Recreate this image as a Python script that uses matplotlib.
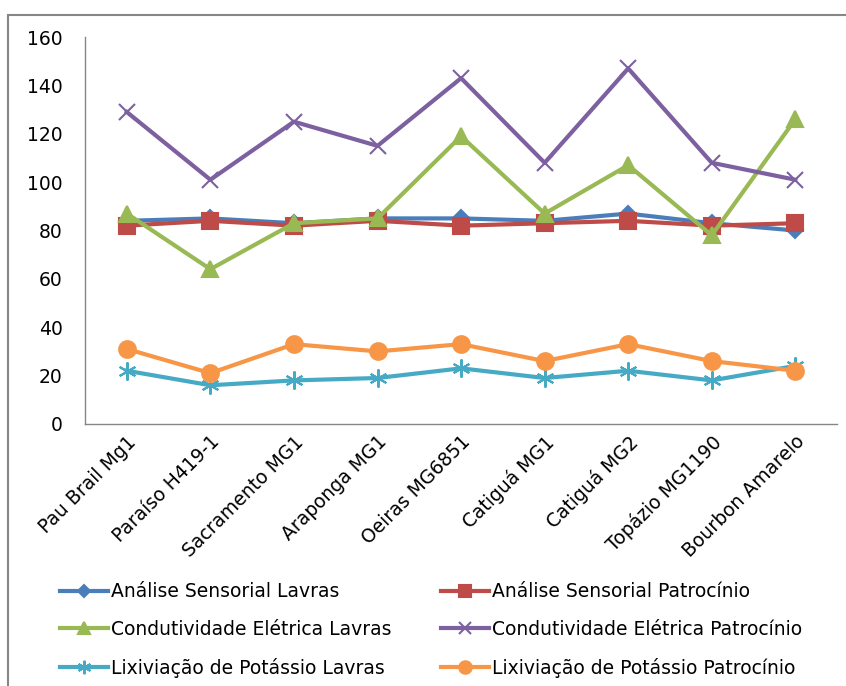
import matplotlib
matplotlib.use("Agg")
import matplotlib.pyplot as plt
from matplotlib.patches import Rectangle

# --- Dados ---
cultivares = ["Pau Brail Mg1", "Paraíso H419-1", "Sacramento MG1", "Araponga MG1",
              "Oeiras MG6851", "Catiguá MG1", "Catiguá MG2", "Topázio MG1190",
              "Bourbon Amarelo"]
sens_lavras = [84, 85, 83, 85, 85, 84, 87, 83, 80]
sens_patroc = [82, 84, 82, 84, 82, 83, 84, 82, 83]
cond_lavras = [87, 64, 83, 85, 119, 87, 107, 78, 126]
cond_patroc = [129, 101, 125, 115, 143, 108, 147, 108, 101]
lix_lavras = [22, 16, 18, 19, 23, 19, 22, 18, 24]
lix_patroc = [31, 21, 33, 30, 33, 26, 33, 26, 22]

plt.rcParams['font.family'] = ['DejaVu Sans']
FS = 13.5

fig = plt.figure(figsize=(8.46, 6.86), dpi=100)
ax = fig.add_axes([0.1005, 0.382, 0.889, 0.564])

x = range(len(cultivares))
series = [
    (sens_lavras, "Análise Sensorial Lavras", "#4A7EBB", "D", 8),
    (sens_patroc, "Análise Sensorial Patrocínio", "#BE4B48", "s", 11),
    (cond_lavras, "Condutividade Elétrica Lavras", "#98B954", "^", 12),
    (cond_patroc, "Condutividade Elétrica Patrocínio", "#7D60A0", "x", 11),
    (lix_lavras, "Lixiviação de Potássio Lavras", "#46AAC5", (6, 2, 0), 13),
    (lix_patroc, "Lixiviação de Potássio Patrocínio", "#F79646", "o", 12),
]
linhas = []
for vals, lab, cor, mk, ms in series:
    l, = ax.plot(x, vals, color=cor, linewidth=3, marker=mk, markersize=ms,
                 markeredgewidth=1.5, markeredgecolor=cor, label=lab)
    linhas.append(l)

ax.set_xlim(-0.5, len(cultivares) - 0.5)
ax.set_ylim(0, 160)
ax.set_yticks(range(0, 161, 20))
ax.set_xticks(list(x))
ax.set_xticklabels(cultivares, rotation=45, ha='right', rotation_mode='anchor',
                   fontsize=FS)
ax.tick_params(axis='y', length=0, labelsize=FS, pad=16)
ax.tick_params(axis='x', length=0, pad=6)
for s in ['top', 'right']:
    ax.spines[s].set_visible(False)
for s in ['left', 'bottom']:
    ax.spines[s].set_color('#868686')
    ax.spines[s].set_linewidth(1)

# legenda preenchida por linhas (como no Excel)
ordem = [0, 2, 4, 1, 3, 5]
fig.legend([linhas[i] for i in ordem], [series[i][1] for i in ordem],
           loc='center left', bbox_to_anchor=(60 / 846, 1 - 630 / 686), ncol=2,
           frameon=False, fontsize=FS, handlelength=2.56, handletextpad=0.15,
           columnspacing=2.65, labelspacing=1.0, borderpad=0, borderaxespad=0,
           markerscale=0.75)

# moldura da área do gráfico
fig.patches.append(Rectangle((8 / 846, -0.1), 1.2, 1 - 15 / 686 + 0.1,
                             transform=fig.transFigure, fill=False,
                             edgecolor='#868686', linewidth=1.5))

fig.savefig("out.png", dpi=100)
